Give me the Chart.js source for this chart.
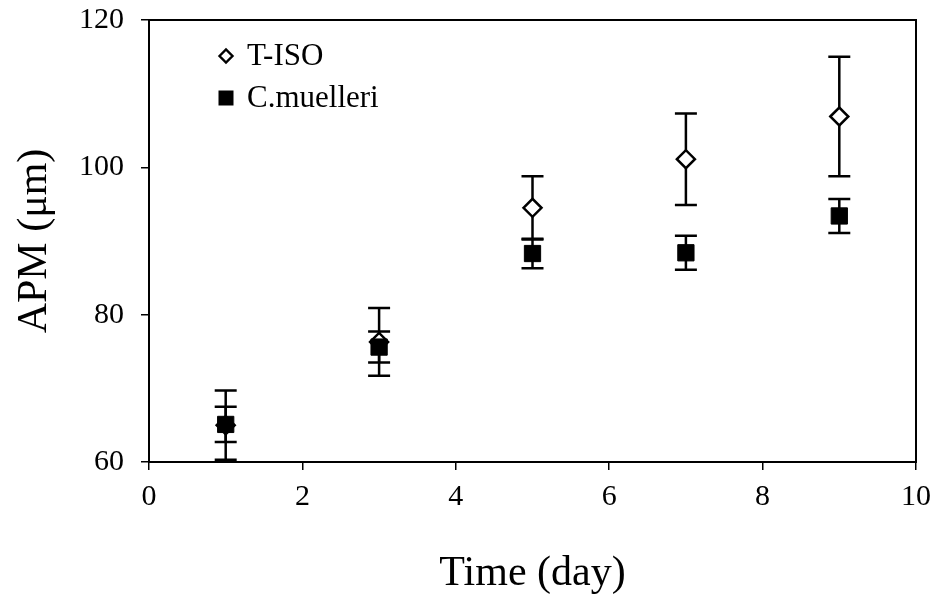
<!DOCTYPE html>
<html>
<head>
<meta charset="utf-8">
<script src="https://cdn.jsdelivr.net/npm/chart.js@4.4.1/dist/chart.umd.min.js"></script>
<style>
  html, body { margin: 0; padding: 0; background: #fff; }
  #wrap { width: 940px; height: 597px; position: relative; }
</style>
</head>
<body>
<div id="wrap"><canvas id="c" width="940" height="597"></canvas></div>
<script>
const days = [1, 3, 5, 7, 9];
const tisoMean = [65.0, 76.3, 94.5, 101.1, 106.9];
const tisoErr = [4.7, 4.6, 4.3, 6.2, 8.1];
const cmMean = [65.1, 75.6, 88.3, 88.4, 93.4];
const cmErr = [2.4, 2.1, 2.0, 2.3, 2.3];
const seriesNames = ['T-ISO', 'C.muelleri'];
const xTicks = [0, 2, 4, 6, 8, 10];
const yTicks = [60, 80, 100, 120];

const FONT = "'Liberation Serif', 'Times New Roman', serif";

const errorBars = {
  id: 'errorBars',
  beforeDatasetsDraw(chart) {
    const ctx = chart.ctx;
    const xs = chart.scales.x, ys = chart.scales.y;
    ctx.save();
    ctx.strokeStyle = '#000';
    ctx.lineWidth = 2.5;
    const sets = [[tisoMean, tisoErr], [cmMean, cmErr]];
    sets.forEach(([m, e]) => {
      days.forEach((d, i) => {
        const px = xs.getPixelForValue(d);
        const top = ys.getPixelForValue(m[i] + e[i]);
        const bot = ys.getPixelForValue(m[i] - e[i]);
        ctx.beginPath();
        ctx.moveTo(px, top); ctx.lineTo(px, bot);
        ctx.moveTo(px - 11, top); ctx.lineTo(px + 11, top);
        ctx.moveTo(px - 11, bot); ctx.lineTo(px + 11, bot);
        ctx.stroke();
      });
    });
    ctx.restore();
  },
  afterDraw(chart) {
    const ctx = chart.ctx;
    const a = chart.chartArea;
    ctx.save();
    ctx.strokeStyle = '#000';
    ctx.lineWidth = 2;
    ctx.strokeRect(a.left, a.top, a.right - a.left, a.bottom - a.top);
    // legend
    ctx.font = '31px ' + FONT;
    ctx.textBaseline = 'alphabetic';
    ctx.textAlign = 'left';
    const dx = 226, dy = 56;
    ctx.beginPath();
    ctx.moveTo(dx - 6.5, dy); ctx.lineTo(dx, dy - 6.5); ctx.lineTo(dx + 6.5, dy); ctx.lineTo(dx, dy + 6.5);
    ctx.closePath();
    ctx.fillStyle = '#fff'; ctx.fill();
    ctx.lineWidth = 2.4; ctx.strokeStyle = '#000'; ctx.stroke();
    ctx.fillStyle = '#000';
    ctx.fillText(chart.data.datasets[0].label, 247, 65);
    const sy = 98;
    ctx.fillRect(dx - 7.5, sy - 7.5, 15, 15);
    ctx.fillText(chart.data.datasets[1].label, 247, 107);
    ctx.restore();
  }
};

new Chart(document.getElementById('c'), {
  type: 'scatter',
  data: {
    datasets: [
      {
        label: seriesNames[0],
        data: days.map((d, i) => ({ x: d, y: tisoMean[i] })),
        pointStyle: 'rectRot',
        pointRadius: 9,
        pointBackgroundColor: '#fff',
        pointBorderColor: '#000',
        pointBorderWidth: 2.5,
        order: 2
      },
      {
        label: seriesNames[1],
        data: days.map((d, i) => ({ x: d, y: cmMean[i] })),
        pointStyle: 'rect',
        pointRadius: 11.5,
        pointBackgroundColor: '#000',
        pointBorderColor: '#000',
        pointBorderWidth: 1,
        order: 1
      }
    ]
  },
  options: {
    responsive: false,
    animation: false,
    events: [],
    layout: { padding: { top: 20, right: 24, left: 0, bottom: 0 } },
    plugins: { legend: { display: false }, tooltip: { enabled: false } },
    scales: {
      x: {
        type: 'linear',
        min: 0, max: 10,
        afterBuildTicks(s) { s.ticks = xTicks.map(v => ({ value: v })); },
        afterFit(s) { s.height = 135; s.paddingLeft = 0; s.paddingRight = 0; },
        grid: { drawOnChartArea: false, drawTicks: true, tickLength: 8, color: '#000', lineWidth: 1.5 },
        border: { display: true, color: '#000', width: 2 },
        ticks: { color: '#000', font: { family: FONT, size: 30, lineHeight: 1.0 }, padding: 12, maxRotation: 0 },
        title: { display: true, text: 'Time (day)', color: '#000', font: { family: FONT, size: 42, lineHeight: 1.1 }, padding: { top: 0, bottom: 0 } }
      },
      y: {
        type: 'linear',
        min: 60, max: 120,
        afterBuildTicks(s) { s.ticks = yTicks.map(v => ({ value: v })); },
        afterFit(s) { s.width = 149; s.paddingTop = 0; s.paddingBottom = 0; },
        grid: { drawOnChartArea: false, drawTicks: true, tickLength: 8, color: '#000', lineWidth: 1.5 },
        border: { display: true, color: '#000', width: 2 },
        ticks: { color: '#000', font: { family: FONT, size: 30, lineHeight: 1.0 }, padding: 17 },
        title: { display: true, text: 'APM (μm)', color: '#000', font: { family: FONT, size: 42, lineHeight: 1.1 }, padding: { top: 12, bottom: 0 } }
      }
    }
  },
  plugins: [errorBars]
});
</script>
</body>
</html>
